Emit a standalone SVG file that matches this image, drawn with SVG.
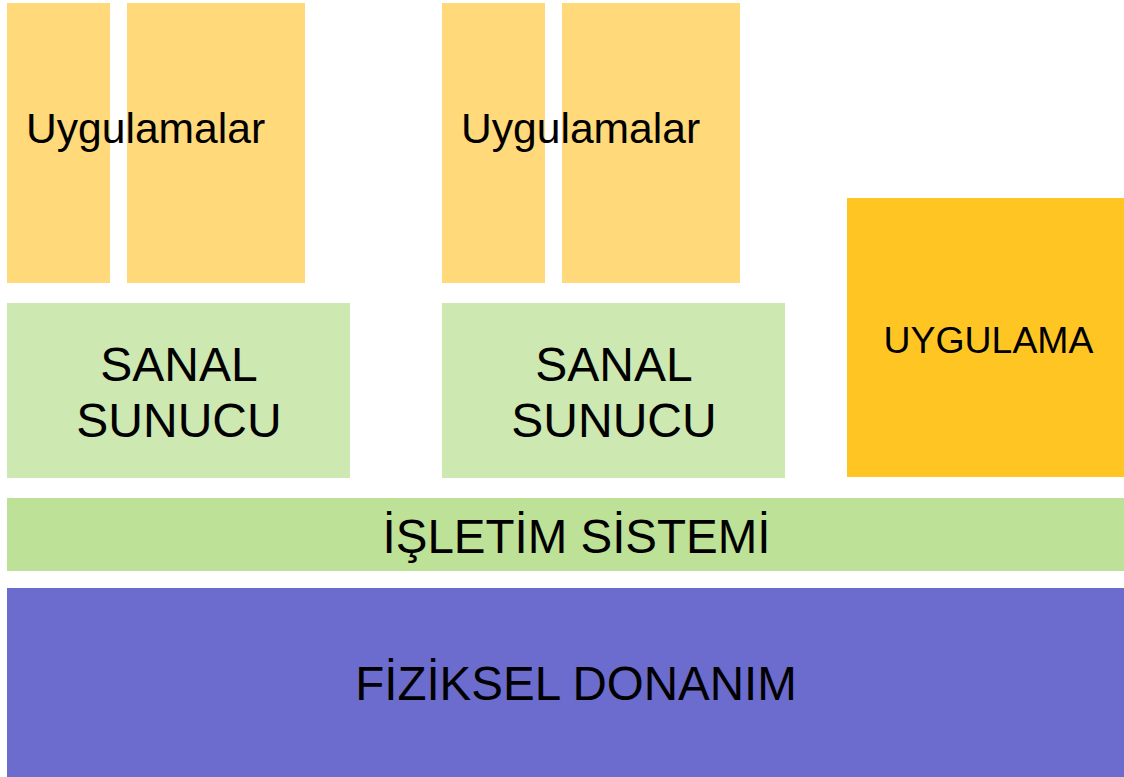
<svg xmlns="http://www.w3.org/2000/svg" width="1124" height="777" viewBox="0 0 1124 777">
<style>
text{font-family:"Liberation Sans",Arial,sans-serif;fill:#000;}
.app{fill:#FFD97A;}
.vm{fill:#CEE8B1;}
.os{fill:#BEE198;}
.single{fill:#FFC623;}
.hw{fill:#6B6CCD;}
.t42{font-size:42.6px;}
.t47{font-size:48px;text-anchor:middle;}
</style>
<rect width="1124" height="777" fill="#ffffff"/>
<g id="apps1">
<rect class="app" x="7" y="3" width="103" height="280"/>
<rect class="app" x="127" y="3" width="178" height="280"/>
<text class="t42" x="26" y="143">Uygulamalar</text>
</g>
<g id="apps2">
<rect class="app" x="442" y="3" width="103" height="280"/>
<rect class="app" x="562" y="3" width="178" height="280"/>
<text class="t42" x="461" y="143">Uygulamalar</text>
</g>
<g id="vm1">
<rect class="vm" x="7" y="303" width="343" height="175"/>
<text class="t47" x="179" y="381">SANAL</text>
<text class="t47" x="179" y="437">SUNUCU</text>
</g>
<g id="vm2">
<rect class="vm" x="442" y="303" width="343" height="175"/>
<text class="t47" x="614" y="381">SANAL</text>
<text class="t47" x="614" y="437">SUNUCU</text>
</g>
<g id="app">
<rect class="single" x="847" y="198" width="277" height="279"/>
<text x="988.5" y="353" font-size="37.4" text-anchor="middle">UYGULAMA</text>
</g>
<g id="os">
<rect class="os" x="7" y="498" width="1117" height="73"/>
<text x="576.5" y="553" font-size="47.5" text-anchor="middle">İŞLETİM SİSTEMİ</text>
</g>
<g id="hw">
<rect class="hw" x="7" y="588" width="1117" height="189"/>
<text x="576" y="700" font-size="47.5" text-anchor="middle">FİZİKSEL DONANIM</text>
</g>
<g id="connectors"></g>
</svg>
